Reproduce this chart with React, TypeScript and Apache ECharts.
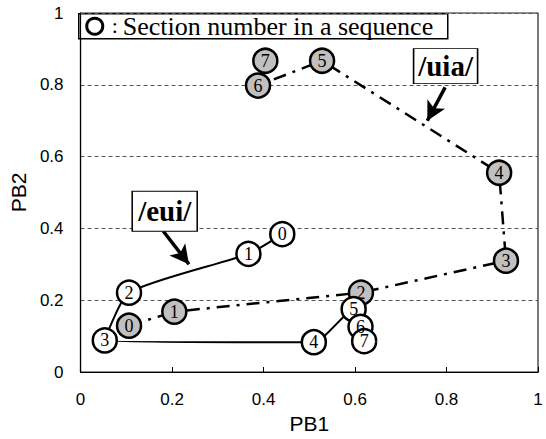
import React, { useEffect, useRef } from "react";
import * as echarts from "echarts";

// /eui/ sequence (white circles)
const euiPB1 = [0.441, 0.367, 0.106, 0.053, 0.51, 0.597, 0.612, 0.62];
const euiPB2 = [0.384, 0.329, 0.221, 0.088, 0.083, 0.175, 0.126, 0.086];
// /uia/ sequence (gray circles)
const uiaPB1 = [0.106, 0.205, 0.613, 0.93, 0.915, 0.528, 0.388, 0.404];
const uiaPB2 = [0.129, 0.168, 0.221, 0.31, 0.555, 0.867, 0.798, 0.867];

const xTicks = [0, 0.2, 0.4, 0.6, 0.8, 1];
const yTicks = [0, 0.2, 0.4, 0.6, 0.8, 1];

// annotation anchors (data coords)
const euiLabelAt = [0.184, 0.448];
const euiArrow = [[0.181, 0.392], [0.237, 0.3]];
const uiaLabelAt = [0.798, 0.852];
const uiaArrow = [[0.797, 0.793], [0.758, 0.7]];

const SERIF = "Liberation Serif";
const SANS = "Liberation Sans";

export default function App() {
  const ref = useRef<HTMLDivElement>(null);
  useEffect(() => {
    if (!ref.current) return;
    const chart = echarts.init(ref.current, null, { renderer: "svg" });
    const pts = (xs: number[], ys: number[]) => xs.map((x, i) => [x, ys[i], i]);
    const pointLabel = {
      show: true,
      position: "inside",
      formatter: (p: any) => String(p.data[2]),
      fontFamily: SERIF,
      fontSize: 18,
      color: "#000",
    };
    const boxLabel = (txt: string, at: number[], w: number, h: number) => ({
      symbolSize: 0,
      silent: true,
      data: [
        {
          coord: at,
          symbol: "rect",
          symbolSize: [w, h],
          itemStyle: { color: "#fff", borderColor: "#000", borderWidth: 1.2 },
          label: {
            show: true,
            position: "inside",
            formatter: txt,
            fontFamily: SERIF,
            fontWeight: "bold",
            fontSize: 29,
            color: "#000",
          },
        },
      ],
    });
    const arrow = (a: number[][]) => ({
      silent: true,
      symbol: ["none", "arrow"],
      symbolSize: [15, 19],
      lineStyle: { type: "solid", width: 3.5, color: "#000" },
      label: { show: false },
      data: [[{ coord: a[0] }, { coord: a[1] }]],
    });
    chart.setOption({
      animation: false,
      backgroundColor: "#fff",
      grid: {
        left: 78,
        right: 8,
        top: 13,
        bottom: 64,
        show: true,
        borderColor: "#222",
        borderWidth: 1.2,
      },
      xAxis: {
        type: "value",
        min: xTicks[0],
        max: xTicks[xTicks.length - 1],
        interval: 0.2,
        name: "PB1",
        nameLocation: "middle",
        nameGap: 41,
        nameTextStyle: { fontFamily: SANS, fontSize: 21, color: "#000" },
        axisLine: { show: true, onZero: false, lineStyle: { color: "#000", width: 1.2 } },
        axisTick: { show: true, inside: true, length: 5, lineStyle: { color: "#000" } },
        axisLabel: { margin: 19, fontFamily: SANS, fontSize: 17, color: "#000" },
        splitLine: { show: false },
      },
      yAxis: {
        type: "value",
        min: yTicks[0],
        max: yTicks[yTicks.length - 1],
        interval: 0.2,
        name: "PB2",
        nameLocation: "middle",
        nameGap: 43,
        nameTextStyle: { fontFamily: SANS, fontSize: 21, color: "#000" },
        axisLine: { show: true, onZero: false, lineStyle: { color: "#000", width: 1.2 } },
        axisTick: { show: false },
        axisLabel: { margin: 17, fontFamily: SANS, fontSize: 17, color: "#000" },
        splitLine: {
          show: true,
          lineStyle: { color: "#555", width: 1, type: [4, 3] },
        },
      },
      series: [
        {
          name: "/uia/",
          type: "line",
          data: pts(uiaPB1, uiaPB2),
          symbol: "circle",
          symbolSize: 24,
          itemStyle: { color: "#c0c0c0", borderColor: "#000", borderWidth: 2.5 },
          lineStyle: { color: "#000", width: 2.5, type: [13, 7, 3, 7] },
          label: pointLabel,
          z: 2,
          markPoint: boxLabel("/uia/", uiaLabelAt, 64, 35),
          markLine: arrow(uiaArrow),
        },
        {
          name: "/eui/",
          type: "line",
          data: pts(euiPB1, euiPB2),
          symbol: "circle",
          symbolSize: 24,
          smooth: 0.2,
          itemStyle: { color: "#fff", borderColor: "#000", borderWidth: 2.5 },
          lineStyle: { color: "#000", width: 2 },
          label: pointLabel,
          z: 3,
          markPoint: boxLabel("/eui/", euiLabelAt, 65, 40),
          markLine: arrow(euiArrow),
        },
      ],
      graphic: [
        {
          type: "group",
          left: 78,
          top: 13,
          z: 100,
          children: [
            {
              type: "rect",
              shape: { x: 0, y: 0, width: 369, height: 25 },
              style: { fill: "#fff", stroke: "#000", lineWidth: 1.5 },
            },
            {
              type: "circle",
              shape: { cx: 16, cy: 12.5, r: 8 },
              style: { fill: "#fff", stroke: "#000", lineWidth: 3 },
            },
            {
              type: "text",
              x: 33,
              y: 12,
              style: {
                text: ":",
                font: `22px ${SERIF}`,
                fill: "#000",
                verticalAlign: "middle",
              },
            },
            {
              type: "text",
              x: 44,
              y: 13,
              style: {
                text: "Section number in a sequence",
                font: `26px ${SERIF}`,
                fill: "#000",
                verticalAlign: "middle",
              },
            },
          ],
        },
      ],
    });
    return () => chart.dispose();
  }, []);
  return (
    <div
      ref={ref}
      style={{ position: "fixed", left: 0, top: 0, width: 546, height: 439 }}
    />
  );
}
